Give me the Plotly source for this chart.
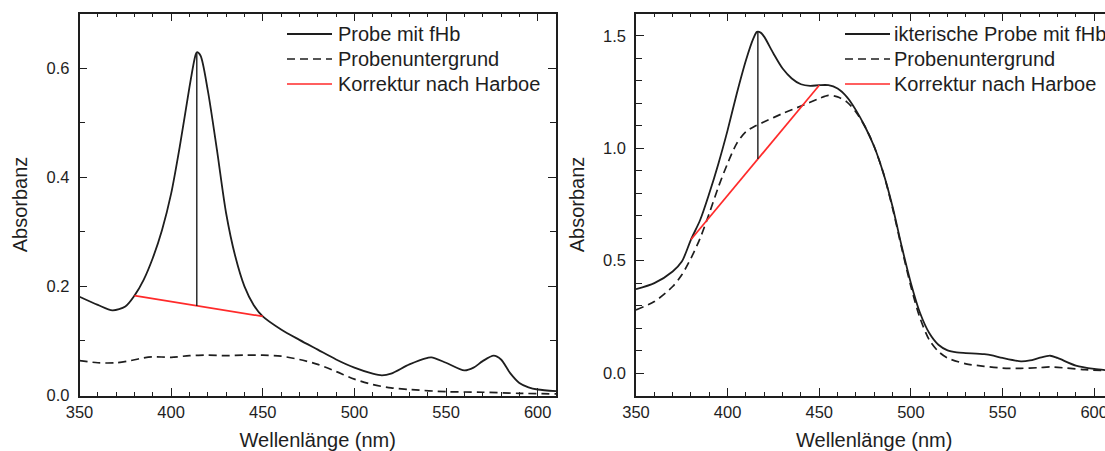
import plotly.graph_objects as go
from plotly.subplots import make_subplots

# ---------------- data ----------------
# Left panel: sample with free haemoglobin
wl_a = [350, 360, 368, 375, 380, 385, 390, 395, 400, 405, 410, 413, 414, 416, 420,
        425, 430, 435, 440, 445, 450, 460, 470, 480, 490, 500, 510, 515, 520, 530,
        540, 542, 550, 560, 565, 570, 576, 580, 585, 590, 595, 600, 610]
probe_a = [0.181, 0.166, 0.156, 0.163, 0.183, 0.212, 0.252, 0.303, 0.370, 0.462, 0.565,
           0.620, 0.629, 0.623, 0.559, 0.450, 0.334, 0.255, 0.200, 0.166, 0.145, 0.121,
           0.102, 0.084, 0.066, 0.051, 0.040, 0.037, 0.040, 0.057, 0.069, 0.070, 0.060,
           0.046, 0.051, 0.063, 0.073, 0.066, 0.041, 0.023, 0.015, 0.011, 0.008]
wl_a_bg = [350, 360, 370, 378, 385, 390, 400, 410, 420, 430, 440, 450, 460, 470, 480,
           490, 500, 510, 520, 530, 550, 570, 590, 610]
bg_a = [0.064, 0.060, 0.060, 0.064, 0.069, 0.071, 0.070, 0.073, 0.074, 0.073, 0.074,
        0.074, 0.072, 0.066, 0.057, 0.044, 0.030, 0.020, 0.014, 0.011, 0.007, 0.006,
        0.004, 0.003]
corr_a_x = [380, 450]
corr_a_y = [0.183, 0.145]
peak_a_x = [414, 414]
peak_a_y = [0.629, 0.164]

# Right panel: icteric sample with free haemoglobin
wl_b = [350, 360, 370, 375, 380, 385, 390, 395, 400, 405, 410, 414, 416, 418, 420,
        425, 430, 435, 440, 445, 450, 455, 460, 465, 470, 475, 480, 485, 490, 495,
        500, 505, 510, 515, 520, 525, 530, 540, 545, 550, 560, 565, 570, 576, 580,
        590, 600, 610]
probe_b = [0.373, 0.400, 0.452, 0.496, 0.594, 0.681, 0.800, 0.933, 1.081, 1.244, 1.392,
           1.488, 1.518, 1.515, 1.496, 1.422, 1.355, 1.311, 1.285, 1.278, 1.281, 1.281,
           1.266, 1.229, 1.170, 1.096, 1.007, 0.889, 0.740, 0.563, 0.400, 0.267, 0.178,
           0.126, 0.101, 0.092, 0.089, 0.084, 0.077, 0.067, 0.052, 0.056, 0.067, 0.077,
           0.067, 0.033, 0.018, 0.010]
wl_b_bg = [350, 360, 370, 375, 380, 385, 390, 395, 400, 405, 410, 415, 420, 430, 440,
           450, 455, 460, 465, 470, 475, 480, 485, 490, 495, 500, 505, 510, 515, 520,
           530, 540, 550, 560, 570, 576, 585, 595, 610]
bg_b = [0.281, 0.318, 0.385, 0.437, 0.511, 0.600, 0.711, 0.829, 0.933, 1.022, 1.074,
        1.099, 1.118, 1.155, 1.188, 1.222, 1.236, 1.229, 1.207, 1.162, 1.096, 1.007,
        0.889, 0.733, 0.555, 0.385, 0.244, 0.148, 0.096, 0.067, 0.041, 0.030, 0.022,
        0.021, 0.024, 0.027, 0.022, 0.015, 0.010]
corr_b_x = [380, 450]
corr_b_y = [0.594, 1.281]
peak_b_x = [416.5, 416.5]
peak_b_y = [1.518, 0.952]

names_a = ["Probe mit fHb", "Probenuntergrund", "Korrektur nach Harboe"]
names_b = ["ikterische Probe mit fHb", "Probenuntergrund", "Korrektur nach Harboe"]
x_ticks = [350, 400, 450, 500, 550, 600]
x_title = "Wellenlänge (nm)"
y_title = "Absorbanz"

# ---------------- styling ----------------
W, H = 1120, 451
FONT = "Liberation Sans, Arial, sans-serif"
INK = "#1e1e1e"
RED = "#ff2a2a"
DASH = "8px,5px"

fig = make_subplots(rows=1, cols=2)

def add_panel(col, wl, probe, wlbg, bg, cx, cy, px, py):
    fig.add_trace(go.Scatter(x=wl, y=probe, mode="lines", showlegend=False,
                             line=dict(color=INK, width=1.8, shape="spline", smoothing=0.8)),
                  row=1, col=col)
    fig.add_trace(go.Scatter(x=wlbg, y=bg, mode="lines", showlegend=False,
                             line=dict(color=INK, width=1.7, dash=DASH, shape="spline", smoothing=0.8)),
                  row=1, col=col)
    fig.add_trace(go.Scatter(x=cx, y=cy, mode="lines", showlegend=False,
                             line=dict(color=RED, width=1.7)), row=1, col=col)
    fig.add_trace(go.Scatter(x=px, y=py, mode="lines", showlegend=False,
                             line=dict(color=INK, width=1.4)), row=1, col=col)

add_panel(1, wl_a, probe_a, wl_a_bg, bg_a, corr_a_x, corr_a_y, peak_a_x, peak_a_y)
add_panel(2, wl_b, probe_b, wl_b_bg, bg_b, corr_b_x, corr_b_y, peak_b_x, peak_b_y)

axis_common = dict(
    showline=True, linecolor=INK, linewidth=1.6, mirror="allticks",
    ticks="inside", ticklen=8, tickwidth=1.4, tickcolor=INK,
    showgrid=False, zeroline=False, automargin=False,
    tickfont=dict(family=FONT, size=16.5, color=INK),
)

top_px, bot_px = 13.5, 395.5
ydom = [(H - bot_px) / H, (H - top_px) / H]

fig.update_xaxes(**axis_common, range=[350, 610], tickvals=x_ticks,
                 minor=dict(dtick=10, tick0=350, ticks="inside", ticklen=4, tickwidth=1.2, tickcolor=INK),
                 ticklabelstandoff=1,
                 title=dict(text=x_title, font=dict(family=FONT, size=20, color=INK), standoff=13))
fig.update_yaxes(**axis_common, tickformat=".1f", ticklabelstandoff=5,
                 title=dict(text=y_title, font=dict(family=FONT, size=20, color=INK), standoff=13))

fig.update_layout(
    xaxis=dict(domain=[79.5 / W, 556 / W]),
    xaxis2=dict(domain=[636 / W, 1112.5 / W]),
    yaxis=dict(domain=ydom, range=[0, 0.7], dtick=0.2, tick0=0,
               minor=dict(dtick=0.1, tick0=0, ticks="inside", ticklen=6, tickwidth=1.2, tickcolor=INK)),
    yaxis2=dict(domain=ydom, range=[-0.1, 1.6], dtick=0.5, tick0=0,
                minor=dict(dtick=0.1, tick0=0, ticks="inside", ticklen=6, tickwidth=1.2, tickcolor=INK)),
)

# ---------------- legends (drawn as swatch + text) ----------------
rows_px = [34, 59, 84]
styles = [dict(color=INK, width=1.8, dash="solid"),
          dict(color=INK, width=1.7, dash=DASH),
          dict(color=RED, width=1.7, dash="solid")]

def add_legend(x0_px, x1_px, text_px, names):
    for ypx, st, nm in zip(rows_px, styles, names):
        yp = 1 - ypx / H
        fig.add_shape(type="line", xref="paper", yref="paper",
                      x0=x0_px / W, x1=x1_px / W, y0=yp, y1=yp, line=st)
        fig.add_annotation(xref="paper", yref="paper", x=text_px / W, y=yp,
                           xanchor="left", yanchor="middle", showarrow=False,
                           text=nm, font=dict(family=FONT, size=20, color=INK))

add_legend(287, 332, 336, names_a)
add_legend(845, 890, 892, names_b)

fig.update_layout(
    width=W, height=H,
    margin=dict(l=0, r=0, t=0, b=0, autoexpand=False),
    paper_bgcolor="white", plot_bgcolor="white",
    font=dict(family=FONT, color=INK),
)

fig.write_html("out.html",
               post_script="document.documentElement.style.overflow='hidden';"
                           "document.body.style.overflow='hidden';document.body.style.margin='0';")
